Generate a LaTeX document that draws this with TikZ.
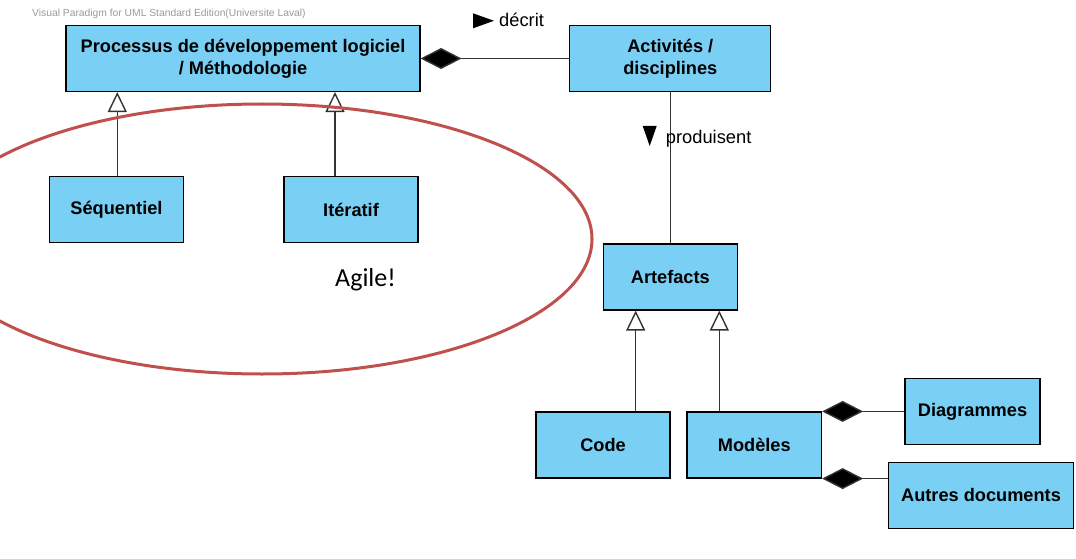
\documentclass[tikz,border=0pt]{standalone}
\usepackage{fontspec}
\setmainfont{Liberation Sans}
\newfontfamily\agilefont{Carlito}
\usetikzlibrary{arrows.meta}
\definecolor{boxblue}{HTML}{7ACFF5}
\definecolor{agilered}{HTML}{C0504D}
\definecolor{wmgray}{HTML}{9A9A9A}
\begin{document}
\begin{tikzpicture}[x=1pt,y=-1pt,
  umlbox/.style={draw=black, line width=1.15pt, fill=boxblue, minimum height=66pt, inner sep=0pt, align=center, font=\bfseries\fontsize{18.2}{22.3}\selectfont},
  assoc/.style={draw=black!80, line width=1.4pt},
  compos/.style={assoc, -{Diamond[length=41pt,width=21pt,fill=black]}},
  gener/.style={assoc, -{Triangle[open,length=20pt,width=19pt,fill=white]}},
  lbl/.style={font=\fontsize{18.3}{22}\selectfont, inner sep=0pt, anchor=base west}]
\useasboundingbox (0,0) rectangle (1076,559);
\fill[white] (0,0) rectangle (1076,559);

% watermark
\node[font=\fontsize{10.3}{12}\selectfont, text=wmgray, inner sep=0pt, anchor=base west] (wm) at (32,17) {Visual Paradigm for UML Standard Edition(Universite Laval)};

% boxes
\node[umlbox, minimum width=354pt] (proc) at (243,58.5) {Processus de développement logiciel\\/ Méthodologie};
\node[umlbox, minimum width=201pt] (act) at (670.3,58.5) {Activités /\\disciplines};
\node[umlbox, minimum width=134pt] (seq) at (116.5,209.5) {Séquentiel};
\node[umlbox, minimum width=134pt] (iter) at (351,209.5) {Itératif};
\node[umlbox, minimum width=134pt] (art) at (670.3,277) {Artefacts};
\node[umlbox, minimum width=134pt] (code) at (603,445) {Code};
\node[umlbox, minimum width=134.5pt] (mod) at (754.3,445) {Modèles};
\node[umlbox, minimum width=135pt] (diag) at (972.5,411.7) {Diagrammes};
\node[umlbox, minimum width=185.5pt] (autres) at (981,495.3) {Autres documents};

% connectors
\draw[compos] (act.west) -- (proc.east);
\draw[assoc] (act.south) -- (art.north);
\draw[gener] ([xshift=0.8pt]seq.north) -- ([xshift=0.8pt]seq.north |- proc.south);
\draw[gener] ([xshift=-16pt]iter.north) -- ([xshift=-16pt]iter.north |- proc.south);
\draw[gener] ([xshift=32.7pt]code.north) -- ([xshift=32.7pt]code.north |- art.south);
\draw[gener] ([xshift=-35pt]mod.north) -- ([xshift=-35pt]mod.north |- art.south);
\draw[compos] (mod.north east -| diag.west) -- (mod.north east);
\draw[compos] (mod.south east -| autres.west) -- (mod.south east);

% association labels
\fill (473,13.3) -- (494,20.8) -- (473,28.3) -- cycle;
\node[lbl] (decrit) at (499,27) {décrit};
\fill (642.7,126) -- (656.7,126) -- (649.7,146) -- cycle;
\node[lbl] (prod) at (665.7,143) {produisent};

% agile ellipse
\begin{scope}
\clip (0,0) rectangle (1076,559);
\draw[agilered, line width=3pt] (262,239) ellipse [x radius=330pt, y radius=135pt];
\end{scope}
\node[font=\agilefont\fontsize{26}{30}\selectfont, inner sep=0pt, anchor=base west] (agile) at (335,286) {Agile!};
\end{tikzpicture}
\end{document}
